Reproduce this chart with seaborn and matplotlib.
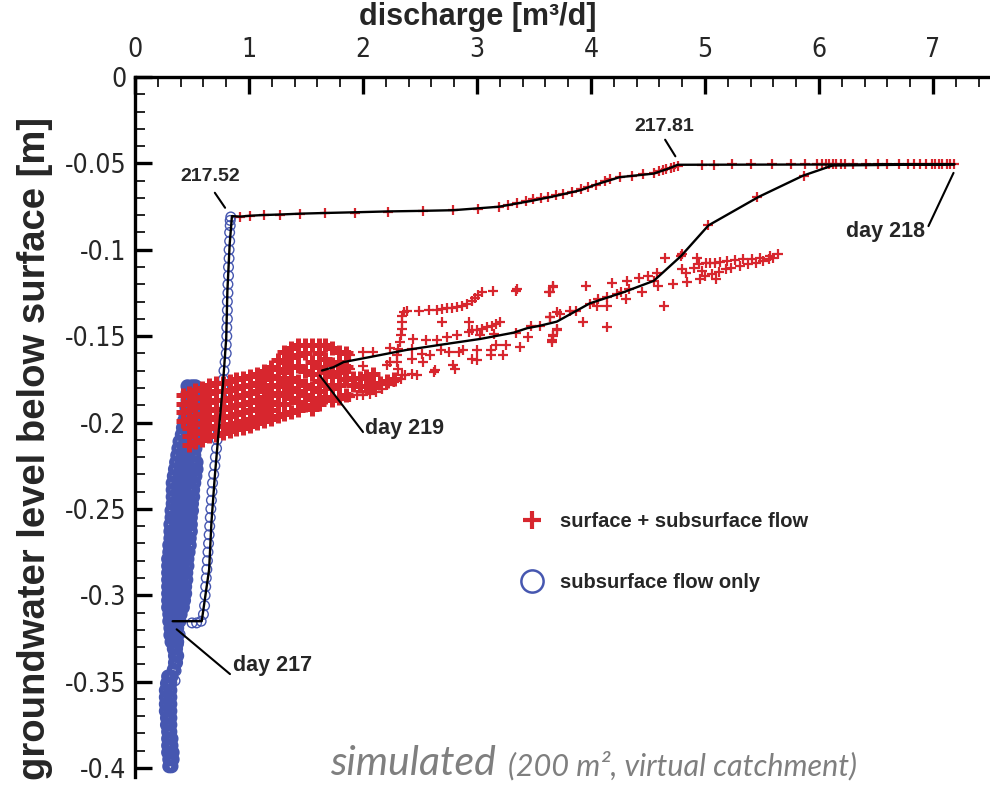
import matplotlib
matplotlib.use("Agg")
import matplotlib.pyplot as plt
import seaborn as sns
from matplotlib.lines import Line2D
from matplotlib.ticker import MultipleLocator

RED = "#d7262e"
BLUE = "#4657b0"

# axes
x_ticks = [0, 1, 2, 3, 4, 5, 6, 7]
x_tick_labels = ["0", "1", "2", "3", "4", "5", "6", "7"]
y_ticks = [0, -0.05, -0.1, -0.15, -0.2, -0.25, -0.3, -0.35, -0.4]
y_tick_labels = ["0", "-0.05", "-0.1", "-0.15", "-0.2", "-0.25", "-0.3", "-0.35", "-0.4"]

# black hysteresis path: day 217 -> 217.52 -> 217.81 -> day 218 -> day 219
path_x = [0.33, 0.585, 0.65, 0.67, 0.70, 0.73, 0.77, 0.80, 0.81, 0.83, 0.85,
          0.92, 1.01, 1.12, 1.27, 1.45, 1.67, 1.93, 2.22, 2.50, 2.79, 3.19,
          3.46, 3.65, 3.91, 4.04, 4.25, 4.55, 4.68, 4.76, 7.19,
          6.12, 5.86, 5.47, 5.03, 4.79, 4.55, 4.28, 3.99, 3.70, 3.55, 3.44,
          3.32, 3.03, 2.68, 2.38, 2.06, 1.83, 1.74, 1.64]
path_y = [-0.315, -0.315, -0.285, -0.258, -0.231, -0.208, -0.179, -0.151, -0.124, -0.097, -0.0805,
          -0.0808, -0.0803, -0.0799, -0.0796, -0.0791, -0.0787, -0.0783, -0.0778, -0.0775, -0.0771, -0.0751,
          -0.0719, -0.0694, -0.0655, -0.0623, -0.0580, -0.0559, -0.0530, -0.0508, -0.0505,
          -0.0512, -0.0571, -0.0694, -0.0859, -0.1036, -0.1180, -0.1247, -0.1310, -0.1416, -0.1440, -0.1454,
          -0.1480, -0.1516, -0.1550, -0.1580, -0.1621, -0.1650, -0.1680, -0.1699]

# surface + subsurface flow: points along the upper path and the return branch
red_path_x = [0.92, 1.01, 1.13, 1.27, 1.45, 1.67, 1.93, 2.22, 2.53, 2.79, 3.01, 3.19, 3.27, 3.35,
              3.43, 3.49, 3.56, 3.62, 3.69, 3.75, 3.83, 3.91, 3.97, 4.04, 4.12, 4.17, 4.25, 4.36,
              4.46, 4.55, 4.60, 4.63, 4.66, 4.70, 4.73, 4.76,
              4.97, 5.08, 5.24, 5.40, 5.59, 5.75, 5.88, 5.98, 6.03, 6.06, 6.09, 6.12, 6.15, 6.19,
              6.23, 6.30, 6.41, 6.52, 6.60, 6.70, 6.78, 6.83, 6.89, 6.94, 6.99, 7.02, 7.05, 7.08,
              7.12, 7.15, 7.18,
              5.87, 5.46, 5.03, 4.79, 4.55]
red_path_y = [-0.0812, -0.0805, -0.0801, -0.0797, -0.0795, -0.0790, -0.0786, -0.0782, -0.0776, -0.0770,
              -0.0763, -0.0751, -0.0740, -0.0728, -0.0719, -0.0709, -0.0700, -0.0694, -0.0684, -0.0676,
              -0.0663, -0.0651, -0.0636, -0.0623, -0.0603, -0.0590, -0.0580, -0.0571, -0.0563, -0.0555,
              -0.0542, -0.0536, -0.0530, -0.0525, -0.0521, -0.0517,
              -0.0508, -0.0507, -0.0506, -0.0505, -0.0505, -0.0505, -0.0505, -0.0505, -0.0505, -0.0505,
              -0.0505, -0.0505, -0.0505, -0.0505, -0.0505, -0.0505, -0.0505, -0.0505, -0.0505, -0.0505,
              -0.0505, -0.0505, -0.0505, -0.0505, -0.0505, -0.0505, -0.0505, -0.0505, -0.0505, -0.0505,
              -0.0505,
              -0.0571, -0.0694, -0.0859, -0.1036, -0.1180]

# dense red band (columns of x with the y levels seen in each column)
red_band_x = [0.42, 0.47, 0.53, 0.59, 0.65, 0.71, 0.77, 0.83, 0.89, 0.95, 1.01, 1.07, 1.13,
              1.19, 1.25, 1.31, 1.37, 1.43, 1.49, 1.55, 1.61, 1.67, 1.73, 1.79, 1.85,
              1.91, 1.97, 2.03, 2.09, 2.15, 2.21, 2.27]
red_band_y = [
    [-0.184, -0.189, -0.194, -0.199],
    [-0.183, -0.188, -0.193, -0.198, -0.203, -0.208, -0.213],
    [-0.181, -0.186, -0.191, -0.196, -0.201, -0.206, -0.211],
    [-0.180, -0.185, -0.190, -0.195, -0.200, -0.205, -0.210],
    [-0.178, -0.183, -0.188, -0.193, -0.198, -0.203, -0.208],
    [-0.177, -0.182, -0.187, -0.192, -0.197, -0.202, -0.207],
    [-0.177, -0.182, -0.187, -0.192, -0.197, -0.202, -0.206],
    [-0.176, -0.181, -0.186, -0.191, -0.196, -0.201, -0.205],
    [-0.175, -0.180, -0.185, -0.190, -0.195, -0.200, -0.204],
    [-0.174, -0.179, -0.184, -0.189, -0.194, -0.199, -0.203],
    [-0.173, -0.178, -0.183, -0.188, -0.193, -0.198, -0.202],
    [-0.172, -0.177, -0.182, -0.187, -0.192, -0.197, -0.200],
    [-0.170, -0.175, -0.180, -0.185, -0.190, -0.195, -0.199],
    [-0.168, -0.173, -0.178, -0.183, -0.188, -0.193, -0.198],
    [-0.164, -0.169, -0.174, -0.179, -0.184, -0.189, -0.196],
    [-0.159, -0.165, -0.171, -0.177, -0.183, -0.189, -0.195],
    [-0.157, -0.162, -0.168, -0.174, -0.180, -0.186, -0.194],
    [-0.155, -0.161, -0.167, -0.176, -0.182, -0.188, -0.193],
    [-0.155, -0.160, -0.170, -0.178, -0.184, -0.190],
    [-0.155, -0.165, -0.172, -0.180, -0.186, -0.192],
    [-0.155, -0.160, -0.168, -0.176, -0.182, -0.189],
    [-0.155, -0.163, -0.171, -0.178, -0.185],
    [-0.157, -0.166, -0.173, -0.180, -0.187],
    [-0.159, -0.165, -0.171, -0.178, -0.186],
    [-0.160, -0.168, -0.175, -0.184],
    [-0.174, -0.178],
    [-0.174, -0.179],
    [-0.173, -0.179],
    [-0.172, -0.178],
    [-0.177],
    [-0.176],
    [-0.175],
]

# scattered red points beyond the band
red_scatter_x = [1.89, 1.95, 2.00, 2.06, 2.11, 2.17, 2.21, 2.27, 2.33, 2.37,
                 1.77, 1.89, 2.00, 1.83, 1.94, 2.06, 1.89, 2.00, 2.09, 2.24,
                 2.36, 2.39, 2.49, 2.58, 2.65, 2.69, 2.74, 2.78, 2.82, 2.87,
                 2.91, 2.96, 2.98, 3.01, 3.04, 3.14, 3.34, 3.35, 3.64, 3.67,
                 2.34, 2.34, 2.34, 2.33, 2.32, 2.31, 2.30, 2.30, 2.31, 2.34,
                 2.69, 2.93, 2.93, 2.96, 3.00, 3.04, 3.09, 3.13, 3.17, 3.20,
                 2.44, 2.55, 2.65, 2.74, 2.82, 3.03, 3.15, 3.34, 3.45, 3.47,
                 3.55, 3.64, 3.70, 3.67, 3.66, 3.70,
                 2.43, 2.52, 2.59, 2.43, 2.53, 2.68, 2.75, 2.84, 2.88, 3.00,
                 3.12, 3.17, 3.25, 3.12, 3.23, 3.38, 2.96, 3.00, 2.79, 2.81,
                 2.63, 2.62, 2.43, 2.47, 2.24, 2.21,
                 3.63, 3.67, 3.96, 4.18, 4.32, 4.42, 4.50, 4.58, 4.65, 4.80,
                 4.93, 4.80, 4.83, 4.90, 4.95, 4.97, 5.01, 5.04, 5.09, 5.13,
                 5.19, 5.26, 5.33, 5.41, 5.48, 5.57, 5.64,
                 4.96, 5.00, 5.06, 5.12, 5.18, 5.23, 5.31, 5.38, 5.45, 5.51,
                 5.56, 5.60, 5.10, 4.84, 4.72, 4.59, 4.45, 4.31, 4.14, 4.64,
                 4.26, 4.23, 4.14, 4.05, 3.93, 4.14, 3.87, 3.82, 3.73, 3.64,
                 3.70, 3.67, 3.66, 4.33, 3.99, 4.06,
                 1.54, 1.60, 1.67, 1.74, 1.80]
red_scatter_y = [-0.1852, -0.1842, -0.1838, -0.1832, -0.1823, -0.1804, -0.1784, -0.1765, -0.1746, -0.1727,
                 -0.167, -0.169, -0.167, -0.175, -0.177, -0.175, -0.161, -0.159, -0.159, -0.157,
                 -0.1362, -0.1352, -0.1352, -0.1348, -0.1346, -0.1343, -0.1339, -0.1337, -0.1333, -0.1323,
                 -0.1314, -0.1298, -0.1281, -0.1262, -0.1246, -0.1237, -0.1237, -0.1227, -0.1246, -0.1212,
                 -0.1381, -0.1419, -0.1458, -0.1496, -0.1535, -0.1573, -0.1612, -0.1650, -0.1688, -0.1727,
                 -0.1419, -0.1419, -0.1477, -0.1467, -0.1464, -0.1458, -0.1448, -0.1439, -0.1429, -0.1419,
                 -0.1515, -0.1525, -0.1525, -0.1506, -0.1496, -0.1496, -0.1487, -0.1481, -0.1506, -0.1439,
                 -0.1439, -0.1391, -0.1362, -0.1496, -0.1525, -0.1467,
                 -0.1573, -0.1602, -0.1608, -0.1631, -0.1650, -0.1583, -0.1592, -0.1592, -0.1583, -0.1583,
                 -0.1583, -0.1554, -0.1554, -0.1612, -0.1608, -0.1563, -0.1631, -0.1640, -0.1669, -0.1688,
                 -0.1698, -0.1708, -0.1717, -0.1727, -0.1650, -0.1669,
                 -0.1247, -0.1218, -0.1209, -0.1195, -0.1180, -0.1166, -0.1151, -0.1132, -0.1045, -0.1026,
                 -0.1045, -0.1113, -0.1132, -0.1103, -0.1084, -0.1122, -0.1078, -0.1078, -0.1074, -0.1070,
                 -0.1064, -0.1061, -0.1055, -0.1051, -0.1045, -0.1036, -0.1026,
                 -0.1170, -0.1151, -0.1138, -0.1128, -0.1113, -0.1103, -0.1093, -0.1084, -0.1074, -0.1064,
                 -0.1055, -0.1045, -0.1170, -0.1186, -0.1199, -0.1212, -0.1243, -0.1285, -0.1324, -0.1324,
                 -0.1247, -0.1257, -0.1276, -0.1324, -0.1420, -0.1449, -0.1353, -0.1353, -0.1372, -0.1391,
                 -0.1458, -0.1497, -0.1535, -0.1228, -0.1314, -0.1285,
                 -0.1877, -0.1877, -0.1875, -0.1872, -0.1868]

# subsurface flow only: circles along the rising branch
blue_rise_x = [0.50, 0.54, 0.58, 0.60, 0.61, 0.615, 0.62, 0.625, 0.63, 0.635, 0.64, 0.645, 0.65,
               0.655, 0.66, 0.665, 0.67, 0.675, 0.68, 0.69, 0.70, 0.705, 0.715, 0.72, 0.73, 0.74,
               0.745, 0.755, 0.76, 0.77, 0.775, 0.78, 0.79, 0.80, 0.80, 0.805, 0.805, 0.81, 0.81,
               0.81, 0.815, 0.815, 0.82, 0.82, 0.825, 0.825, 0.83, 0.83, 0.835, 0.835, 0.84,
               0.395, 0.38, 0.365, 0.36, 0.351]
blue_rise_y = [-0.316, -0.316, -0.315, -0.311, -0.306, -0.300, -0.295, -0.290, -0.285, -0.280, -0.275,
               -0.270, -0.265, -0.260, -0.255, -0.250, -0.245, -0.240, -0.235, -0.230, -0.225, -0.220,
               -0.215, -0.210, -0.205, -0.200, -0.195, -0.190, -0.185, -0.180, -0.175, -0.170, -0.165,
               -0.160, -0.155, -0.150, -0.145, -0.140, -0.135, -0.130, -0.125, -0.120, -0.115, -0.110,
               -0.105, -0.100, -0.095, -0.090, -0.086, -0.083, -0.081,
               -0.3226, -0.3284, -0.336, -0.3437, -0.3495]

# dense blue band (rows of y with the x positions seen in each row)
blue_band_y = [-0.179, -0.183, -0.187, -0.191, -0.195, -0.199, -0.203, -0.207, -0.211, -0.215,
               -0.219, -0.223, -0.227, -0.231, -0.235, -0.239, -0.243, -0.247, -0.251, -0.255,
               -0.259, -0.263, -0.267, -0.271, -0.275, -0.279, -0.283, -0.287, -0.291, -0.295,
               -0.299, -0.303, -0.307, -0.311, -0.315, -0.319, -0.323, -0.327, -0.331, -0.335,
               -0.339, -0.343, -0.347, -0.351, -0.355, -0.359, -0.363, -0.367, -0.371, -0.375,
               -0.379, -0.383, -0.387, -0.391, -0.395, -0.399]
blue_band_x = [
    [0.46, 0.50, 0.53], [0.46, 0.50, 0.53], [0.46, 0.50, 0.54], [0.45, 0.49, 0.54],
    [0.44, 0.49, 0.54], [0.43, 0.48, 0.53], [0.42, 0.47, 0.52], [0.41, 0.46, 0.51],
    [0.39, 0.44, 0.49, 0.53], [0.38, 0.43, 0.48, 0.53], [0.37, 0.42, 0.47, 0.52],
    [0.36, 0.41, 0.46, 0.51, 0.54], [0.35, 0.40, 0.45, 0.50, 0.54], [0.34, 0.39, 0.44, 0.49, 0.53],
    [0.33, 0.38, 0.43, 0.48, 0.52], [0.33, 0.38, 0.43, 0.48, 0.51], [0.33, 0.38, 0.43, 0.47, 0.51],
    [0.33, 0.37, 0.42, 0.46, 0.50], [0.32, 0.37, 0.42, 0.46, 0.50], [0.32, 0.36, 0.41, 0.45, 0.49],
    [0.31, 0.36, 0.41, 0.45, 0.49], [0.31, 0.35, 0.40, 0.44, 0.49], [0.31, 0.35, 0.40, 0.44, 0.48],
    [0.30, 0.34, 0.39, 0.43, 0.48], [0.30, 0.34, 0.39, 0.43, 0.47], [0.29, 0.33, 0.38, 0.42, 0.46],
    [0.29, 0.33, 0.38, 0.42, 0.46], [0.29, 0.33, 0.37, 0.41, 0.45], [0.29, 0.33, 0.37, 0.41, 0.45],
    [0.29, 0.33, 0.37, 0.41, 0.44], [0.29, 0.33, 0.37, 0.41, 0.44], [0.29, 0.33, 0.37, 0.40, 0.43],
    [0.29, 0.33, 0.37, 0.40, 0.42], [0.30, 0.34, 0.37, 0.40], [0.30, 0.34, 0.37, 0.39],
    [0.31, 0.34, 0.37], [0.31, 0.34, 0.37], [0.32, 0.35, 0.37], [0.34, 0.36], [0.35, 0.37],
    [0.35, 0.36], [0.34], [0.29, 0.32], [0.28, 0.31], [0.27, 0.31], [0.27, 0.31], [0.27, 0.31],
    [0.27, 0.31], [0.28, 0.31], [0.28, 0.31], [0.29, 0.31], [0.29, 0.32], [0.29, 0.32],
    [0.29, 0.33], [0.30, 0.33], [0.30, 0.32],
]

# flatten the column / row tables into point lists
red_line_x = list(red_path_x) + list(red_scatter_x)
red_line_y = list(red_path_y) + list(red_scatter_y)
red_dense_x, red_dense_y = [], []
for xx, ys in zip(red_band_x, red_band_y):
    red_dense_x += [xx] * len(ys)
    red_dense_y += ys
blue_dense_x, blue_dense_y = [], []
for yy, xs in zip(blue_band_y, blue_band_x):
    blue_dense_x += xs
    blue_dense_y += [yy] * len(xs)

sns.set_theme(style="ticks")
plt.rcParams["font.family"] = ["Liberation Sans", "DejaVu Sans"]
plt.rcParams["axes.unicode_minus"] = False

fig = plt.figure(figsize=(9.9, 7.85), dpi=100)
ax = fig.add_axes([0.1364, 0.0106, 0.8636, 0.8913])

# dense clouds drawn with heavier strokes so the overlap reads as solid, like the original
sns.scatterplot(x=blue_dense_x, y=blue_dense_y, marker="o", s=42, facecolor="none", edgecolor=BLUE,
                linewidth=3.6, ax=ax, zorder=2)
sns.scatterplot(x=blue_rise_x, y=blue_rise_y, marker="o", s=48, facecolor="none", edgecolor=BLUE,
                linewidth=1.0, ax=ax, zorder=2)
sns.scatterplot(x=red_dense_x, y=red_dense_y, marker="+", s=95, color=RED, linewidth=3.6,
                ax=ax, zorder=3)
sns.scatterplot(x=red_line_x, y=red_line_y, marker="+", s=42, color=RED, linewidth=1.6,
                ax=ax, zorder=3)
sns.lineplot(x=path_x, y=path_y, sort=False, estimator=None, color="black", linewidth=1.7,
             ax=ax, zorder=4)

# axis setup: discharge on top, inward ticks
tick_font = dict(fontfamily="DejaVu Sans", fontstretch="condensed", fontsize=19)
ax.set_xlim(0, 7.5)
ax.set_ylim(-0.405, 0)
ax.xaxis.tick_top()
ax.set_xticks(x_ticks)
ax.set_xticklabels(x_tick_labels, **tick_font)
ax.set_yticks(y_ticks)
ax.set_yticklabels(y_tick_labels, **tick_font)
ax.xaxis.set_minor_locator(MultipleLocator(0.2))
ax.yaxis.set_minor_locator(MultipleLocator(0.01))
ax.tick_params(which="major", direction="in", length=12, width=2.4, color="black")
ax.tick_params(which="minor", direction="in", length=7, width=1.2, color="black")
ax.tick_params(axis="x", which="major", pad=10)
ax.tick_params(axis="y", which="major", pad=6)
ax.set_xlabel("")
ax.set_ylabel("")
for side in ["right", "bottom"]:
    ax.spines[side].set_visible(False)
for side in ["left", "top"]:
    ax.spines[side].set_linewidth(2.4)
    ax.spines[side].set_color("black")

fig.text(478 / 990, 1 - 17 / 785, "discharge [m³/d]", ha="center", va="center",
         fontsize=22, fontweight="bold")
fig.text(35 / 990, 1 - 449 / 785, "groundwater level below surface [m]", ha="center", va="center",
         rotation=90, fontsize=27.5, fontweight="bold")

# labels with leader lines
lead = dict(color="black", linewidth=1.5, zorder=5)
ax.plot([0.70, 0.79], [-0.067, -0.0757], **lead)
ax.text(0.66, -0.0578, "217.52", ha="center", va="center", fontsize=14, fontweight="bold")
ax.plot([4.65, 4.74], [-0.0363, -0.0459], **lead)
ax.text(4.64, -0.0286, "217.81", ha="center", va="center", fontsize=14, fontweight="bold")
ax.plot([7.18, 6.96], [-0.0555, -0.0863], **lead)
ax.text(6.93, -0.0892, "day 218", ha="right", va="center", fontsize=15.5, fontweight="bold")
ax.plot([1.62, 2.00], [-0.1727, -0.2055], **lead)
ax.text(2.02, -0.2035, "day 219", ha="left", va="center", fontsize=15.5, fontweight="bold")
ax.plot([0.365, 0.833], [-0.3197, -0.3456], **lead)
ax.text(0.862, -0.3408, "day 217", ha="left", va="center", fontsize=15.5, fontweight="bold")

handles = [Line2D([], [], ls="none", marker="+", ms=13, mew=3, color=RED),
           Line2D([], [], ls="none", marker="o", ms=16, mfc="none", mec=BLUE, mew=1.8)]
ax.legend(handles, ["surface + subsurface flow", "subsurface flow only"],
          loc="upper left", bbox_to_anchor=(510 / 990, 1 - 502 / 785), bbox_transform=fig.transFigure,
          frameon=False, borderpad=0, handlelength=1.2, handletextpad=0.8, labelspacing=2.1,
          prop={"weight": "bold", "size": 14.5})

fig.text(330 / 990, 1 - 775 / 785, "simulated", fontsize=29.5, style="italic", family="Lato",
         color="#7f7f7f", va="baseline")
fig.text(508 / 990, 1 - 775 / 785, "(200 m², virtual catchment)", fontsize=22, style="italic",
         family="Lato", color="#7f7f7f", va="baseline")

fig.savefig("out.png", dpi=100)
